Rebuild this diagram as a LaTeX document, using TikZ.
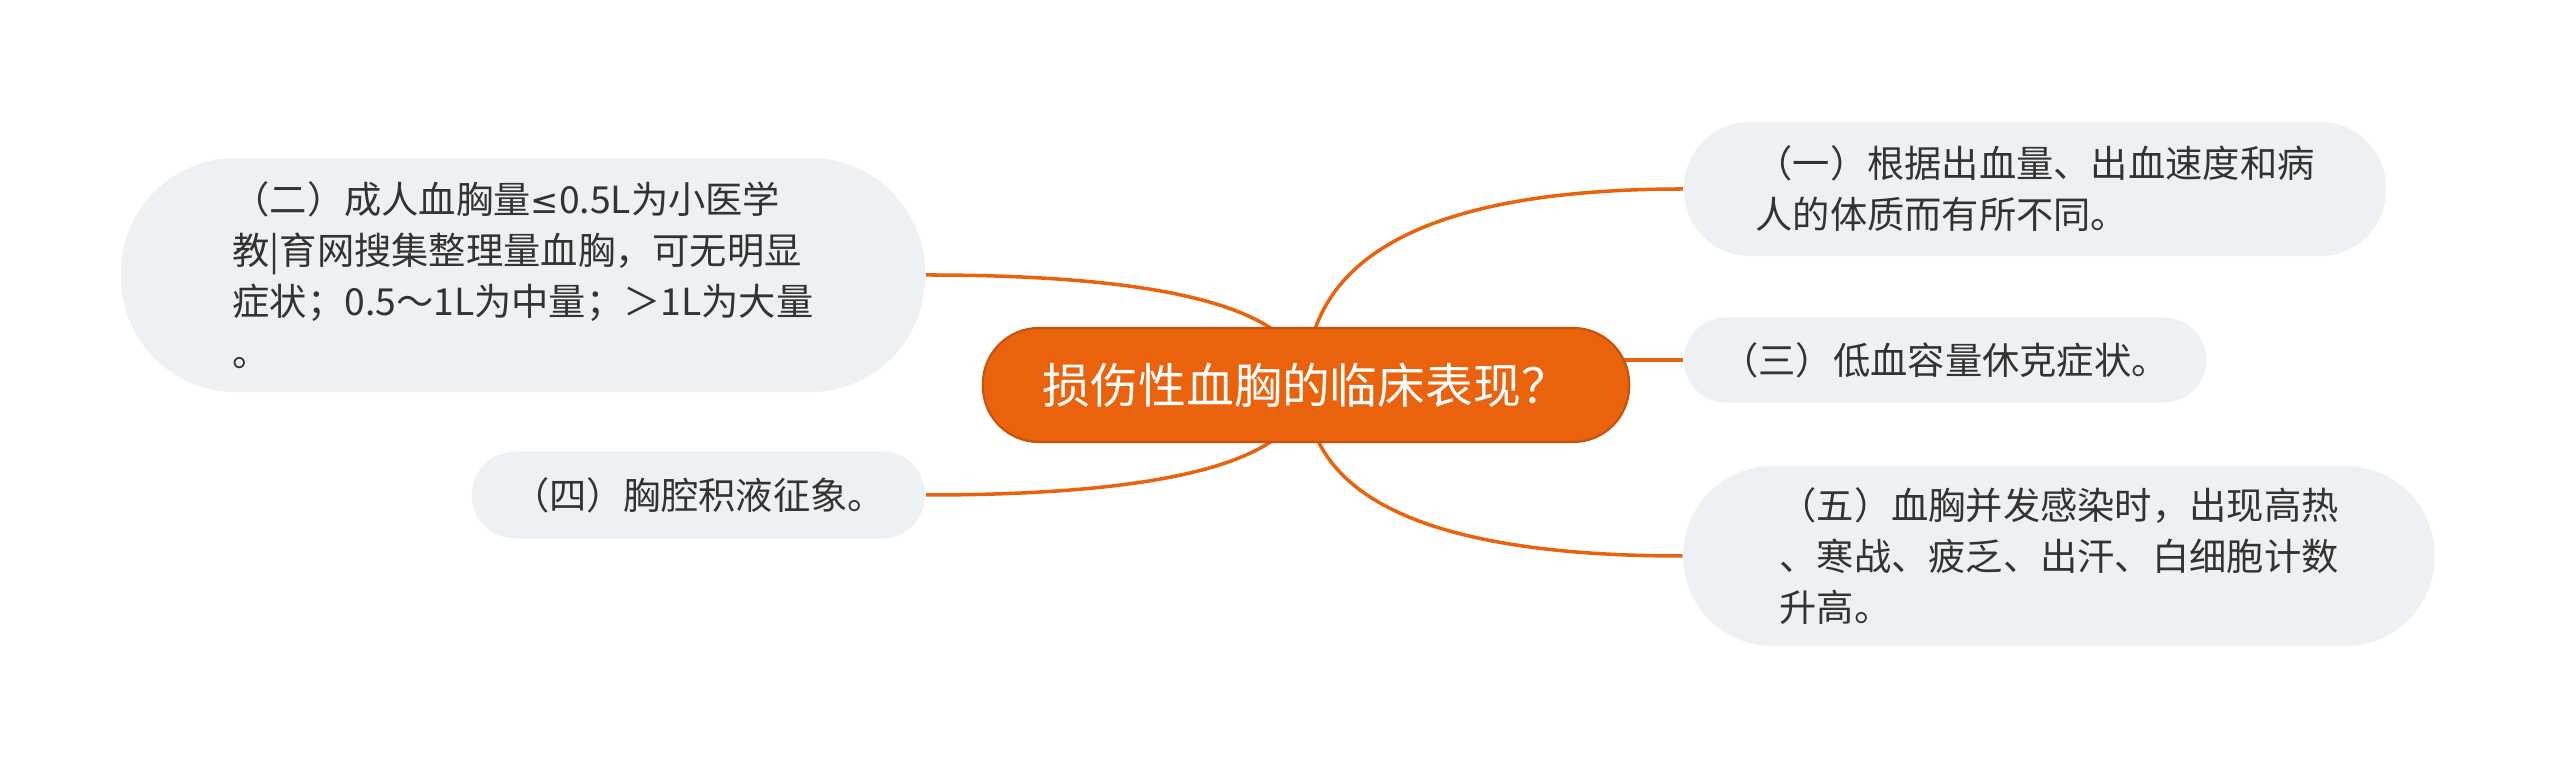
\documentclass[tikz,border=0pt]{standalone}
\usepackage{fontspec}
\setmainfont{Noto Sans CJK SC}
\newfontfamily\mathsym{DejaVu Sans}
\usetikzlibrary{backgrounds,calc}
\definecolor{brorange}{HTML}{EA620C}
\definecolor{leafgray}{HTML}{EEF1F4}
\definecolor{inkgray}{HTML}{333333}

\begin{document}
\begin{tikzpicture}[x=0.01cm,y=0.01cm,
  root/.style={fill=brorange,draw=brorange!85!black,line width=0.6pt,text=white,
    rounded corners=0.56cm,minimum width=6.46cm,minimum height=1.14cm,
    font=\fontsize{13.6}{16}\selectfont},
  leaf/.style={fill=leafgray,text=inkgray,align=left,
    font=\fontsize{10.6}{14.5}\selectfont},
  conn/.style={draw=brorange,line width=1pt}]
  \useasboundingbox (0,0) rectangle (2560,-771);

  \node[root] (root) at (1306,-385) {损伤性血胸的临床表现？};

  \node[leaf,minimum width=7.02cm,minimum height=1.34cm,rounded corners=0.66cm]
    (n1) at (2035,-189) {（一）根据出血量、出血速度和病\\人的体质而有所不同。};
  \node[leaf,minimum width=8.04cm,minimum height=2.34cm,rounded corners=1.15cm]
    (n2) at (523,-275) {（二）成人血胸量{\mathsym\fontsize{9.6}{14.5}\selectfont ≤}0.5L为小医学\\教|育网搜集整理量血胸，可无明显\\症状；0.5～1L为中量；＞1L为大量\\。};
  \node[leaf,minimum width=5.22cm,minimum height=0.85cm,rounded corners=0.42cm]
    (n3) at (1945,-360) {（三）低血容量休克症状。};
  \node[leaf,minimum width=4.53cm,minimum height=0.87cm,rounded corners=0.43cm]
    (n4) at (698.5,-495) {（四）胸腔积液征象。};
  \node[leaf,minimum width=7.51cm,minimum height=1.80cm,rounded corners=0.89cm]
    (n5) at (2059,-556) {（五）血胸并发感染时，出现高热\\、寒战、疲乏、出汗、白细胞计数\\升高。};

  \coordinate (k1) at (root.center |- n1.west);
  \coordinate (k2) at (root.center |- n2.east);
  \coordinate (k4) at (root.center |- n4.east);
  \coordinate (k5) at (root.center |- n5.west);

  \begin{pgfonlayer}{background}
    \draw[conn] (root.center) .. controls ($(root.center)!2/3!(k1)$) and ($(n1.west)!2/3!(k1)$) .. (n1.west);
    \draw[conn] (root.center) .. controls ($(root.center)!2/3!(k2)$) and ($(n2.east)!2/3!(k2)$) .. (n2.east);
    \draw[conn] (root.center |- n3.west) -- (n3.west);
    \draw[conn] (root.center) .. controls ($(root.center)!2/3!(k4)$) and ($(n4.east)!2/3!(k4)$) .. (n4.east);
    \draw[conn] (root.center) .. controls ($(root.center)!2/3!(k5)$) and ($(n5.west)!2/3!(k5)$) .. (n5.west);
  \end{pgfonlayer}
\end{tikzpicture}
\end{document}
